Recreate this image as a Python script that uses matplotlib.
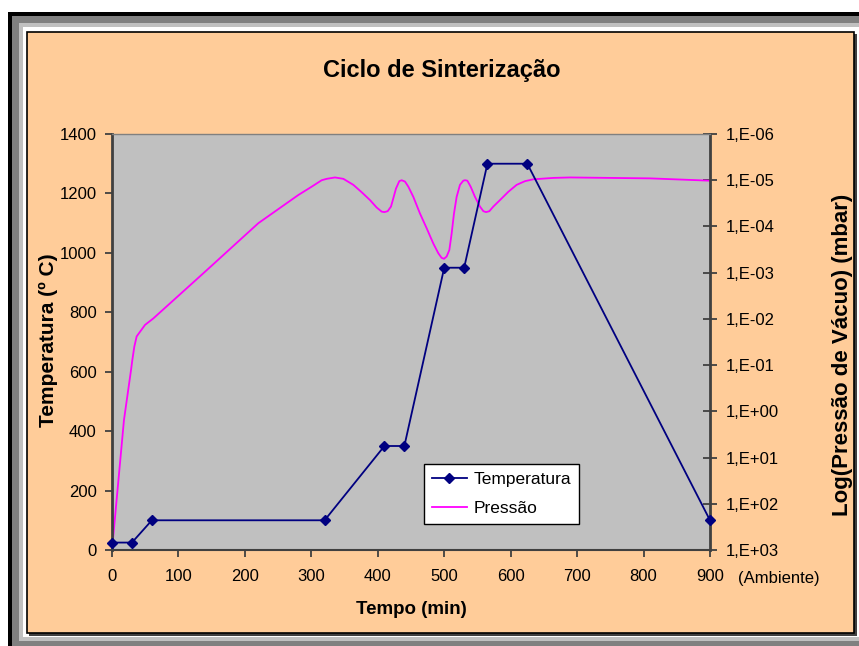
import numpy as np
import matplotlib
matplotlib.use('Agg')
import matplotlib.pyplot as plt
from matplotlib.patches import Rectangle
from matplotlib.lines import Line2D
from matplotlib.ticker import FixedLocator, FuncFormatter, NullLocator

plt.rcParams['font.family'] = ['Liberation Sans', 'DejaVu Sans']

# temperatura (ºC) x tempo (min)
tempo_temp = [0, 30, 60, 320, 410, 440, 500, 530, 565, 625, 900]
temperatura = [25, 25, 100, 100, 350, 350, 950, 950, 1300, 1300, 100]

# pressao (expoente de 10, mbar) x tempo (min)
tempo_pres = [0, 18, 28.6, 30.6, 33.6, 37.1, 42.1, 49.7, 62.2, 140, 220.2, 280.4,
              300.5, 315.6, 323.1, 335.6, 348.2, 363.2, 375.8, 388.3, 398.3, 405.9,
              409.9, 414.9, 419.9, 423.4, 427.4, 432.4, 436.0, 441.0, 446.0, 453.5,
              463.5, 473.6, 483.6, 491.1, 496.1, 499.7, 503.7, 507.7, 511.2, 514.7,
              518.7, 523.7, 528.7, 531.3, 534.8, 539.8, 546.3, 553.8, 558.9, 562.9,
              567.9, 573.9, 583.9, 596.5, 609.0, 621.6, 634.1, 664.2, 689.3, 810, 900]
log_pressao = [3.0, 0.19, -0.89, -1.11, -1.40, -1.62, -1.72, -1.87, -2.01, -3.02, -4.07, -4.68,
               -4.86, -5.0, -5.03, -5.06, -5.03, -4.90, -4.74, -4.57, -4.41, -4.32,
               -4.31, -4.33, -4.43, -4.61, -4.82, -4.98, -5.0, -4.97, -4.86, -4.64,
               -4.28, -3.96, -3.63, -3.42, -3.32, -3.30, -3.35, -3.49, -3.85, -4.28,
               -4.64, -4.90, -4.99, -5.0, -4.99, -4.86, -4.64, -4.43, -4.33, -4.31,
               -4.33, -4.43, -4.57, -4.75, -4.90, -4.98, -5.02, -5.05, -5.06, -5.04, -4.99]
pressao = 10.0 ** np.array(log_pressao)

x_ticks = list(range(0, 901, 100))
y_ticks = list(range(0, 1401, 200))
expoentes = list(range(-6, 4))

W, H = 859, 646
fig = plt.figure(figsize=(W / 100, H / 100), dpi=100)
fig.patch.set_facecolor('white')


def caixa(x0, y0, x1, y1, **kw):
    fig.add_artist(Rectangle((x0 / W, 1 - y1 / H), (x1 - x0) / W, (y1 - y0) / H,
                             transform=fig.transFigure, zorder=-10, **kw))


# moldura tipo janela
caixa(8, 12, 900, 700, facecolor='black', lw=0)
caixa(12, 16, 900, 700, facecolor='#808080', lw=0)
caixa(19, 23, 900, 641, facecolor='#c0c0c0', lw=0)
caixa(23, 27, 900, 637, facecolor='white', lw=0)
caixa(29, 34, 857, 636, facecolor='#404040', lw=0)
caixa(27, 32, 854, 633, facecolor='#ffcc99', edgecolor='black', lw=1.2)

ax = fig.add_axes([112 / W, 1 - 550 / H, 598 / W, 416 / H])
ax.set_facecolor('#c0c0c0')
ax.plot(tempo_temp, temperatura, color='#000080', marker='D', ms=5, lw=1.3,
        clip_on=False, zorder=4)
ax.set_xlim(0, 900)
ax.set_ylim(0, 1400)
ax.set_xticks(x_ticks)
ax.set_yticks(y_ticks)
ax.tick_params(axis='y', direction='out', length=5, width=1.3, color='#404040',
               pad=6, labelsize=12)
ax.tick_params(axis='x', direction='out', length=5, width=1.3, color='#404040',
               pad=9, labelsize=12)
ax.spines['left'].set_color('#404040')
ax.spines['left'].set_linewidth(2)
ax.spines['bottom'].set_color('#404040')
ax.spines['bottom'].set_linewidth(1.5)
ax.spines['top'].set_color('#808080')
ax.spines['top'].set_linewidth(1)
ax.spines['right'].set_visible(False)

ax2 = ax.twinx()
ax2.plot(tempo_pres, pressao, color='#ff00ff', lw=1.3)
ax2.set_yscale('log')
ax2.set_ylim(1e3, 1e-6)
ax2.yaxis.set_major_locator(FixedLocator([10.0 ** k for k in expoentes]))
ax2.yaxis.set_minor_locator(NullLocator())
ax2.yaxis.set_major_formatter(FuncFormatter(lambda v, pos: '1,E%+03d' % round(np.log10(v))))
ax2.tick_params(axis='y', direction='inout', length=10, width=1.3, color='#404040',
                pad=6, labelsize=12)
for s in ['left', 'top', 'bottom']:
    ax2.spines[s].set_visible(False)
ax2.spines['right'].set_color('#404040')
ax2.spines['right'].set_linewidth(2)
# linha de temperatura por cima da pressao
ax.set_zorder(ax2.get_zorder() + 1)
ax.patch.set_visible(False)
ax2.patch.set_visible(True)
ax2.patch.set_facecolor('#c0c0c0')

fig.text(441.5 / W, 1 - 70 / H, 'Ciclo de Sinterização', ha='center', va='center',
         fontsize=17, fontweight='bold')

ax.set_xlabel('Tempo (min)', fontsize=13.5, fontweight='bold')
ax.xaxis.set_label_coords(0.5, (550 - 610) / 416)
ax.xaxis.label.set_va('center')
ax.set_ylabel('Temperatura (º C)', fontsize=15, fontweight='bold')
ax.yaxis.set_label_coords(-0.107, 0.504)
ax.yaxis.label.set_va('center')
ax2.set_ylabel('Log(Pressão de Vácuo) (mbar)', fontsize=16, fontweight='bold')
ax2.yaxis.set_label_coords(1.222, 0.468)
ax2.yaxis.label.set_va('center')

ax.text(1.115, (550 - 579) / 416, '(Ambiente)', transform=ax.transAxes,
        ha='center', va='center', fontsize=12)

handles = [Line2D([], [], color='#000080', marker='D', ms=5, lw=1.3),
           Line2D([], [], color='#ff00ff', lw=1.3)]
leg = ax.legend(handles, ['Temperatura', 'Pressão'], loc='lower left',
                bbox_to_anchor=(0.522, 0.0625), borderaxespad=0, fancybox=False,
                edgecolor='black', framealpha=1, fontsize=12.5, handlelength=2.0,
                handletextpad=0.4, labelspacing=0.8, borderpad=0.45)
leg.get_frame().set_linewidth(1.0)
leg.set_zorder(10)

fig.savefig('out.png', dpi=100, facecolor=fig.get_facecolor())
